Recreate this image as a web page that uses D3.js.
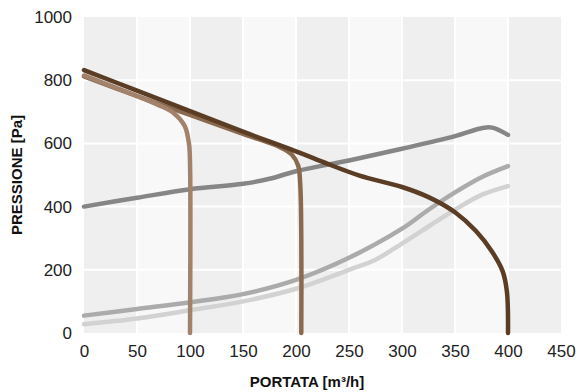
<!DOCTYPE html>
<html><head><meta charset="utf-8">
<script src="https://cdn.jsdelivr.net/npm/d3@7/dist/d3.min.js"></script>
<style>body{margin:0;background:#fff}svg{display:block}</style>
</head><body>
<svg id="c" width="579" height="392"></svg>
<script>
const xTicks = [0,50,100,150,200,250,300,350,400,450];
const yTicks = [0,200,400,600,800,1000];
const xTitle = "PORTATA [m³/h]";
const yTitle = "PRESSIONE [Pa]";

// system curves (grey)
const greyDarkX = [0,50,100,150,175,200,250,300,350,375,385,400];
const greyDarkY = [400,428,455,472,488,512,546,583,623,648,650,627];
const greyMidX = [0,50,100,150,200,250,300,325,350,375,400];
const greyMidY = [55,76,97,123,168,238,330,390,445,493,528];
const greyLightX = [0,50,100,150,200,250,275,300,325,350,375,400];
const greyLightY = [28,46,72,100,140,200,232,283,337,390,437,465];

// fan curves (brown)
const fan100X = [0,40,70,85,95,99,100,100];
const fan100Y = [815,763,722,695,655,600,540,0];
const fan200X = [0,50,100,150,185,196,202,204,205,205];
const fan200Y = [812,750,690,630,588,565,530,470,300,0];
const fan400X = [0,50,100,150,200,230,260,300,325,350,370,385,395,399,400];
const fan400Y = [832,767,702,637,575,535,498,462,430,382,322,257,195,130,0];

const series = [
  {x: greyLightX, y: greyLightY, color: "#d2d2d2"},
  {x: greyMidX, y: greyMidY, color: "#ababab"},
  {x: greyDarkX, y: greyDarkY, color: "#868686"},
  {x: fan200X, y: fan200Y, color: "#8a6a4f"},
  {x: fan100X, y: fan100Y, color: "#a2826b"},
  {x: fan400X, y: fan400Y, color: "#5a3d24"}
];

const m = {l:84, r:561, t:17, b:333};
const x = d3.scaleLinear().domain([0,450]).range([m.l, m.r]);
const y = d3.scaleLinear().domain([0,1000]).range([m.b, m.t]);
const svg = d3.select("#c");
const font = "'Liberation Sans', Arial, sans-serif";

// alternating column bands
for (let i = 0; i < xTicks.length - 1; i++) {
  svg.append("rect")
    .attr("x", x(xTicks[i])).attr("y", m.t)
    .attr("width", x(xTicks[i+1]) - x(xTicks[i])).attr("height", m.b - m.t)
    .attr("fill", i % 2 === 0 ? "#efefef" : "#f8f8f8");
}
// grid
svg.append("g").selectAll("line").data(xTicks.slice(1,-1)).join("line")
  .attr("x1", d=>x(d)).attr("x2", d=>x(d)).attr("y1", m.t).attr("y2", m.b)
  .attr("stroke", "#fff").attr("stroke-width", 2);
svg.append("g").selectAll("line").data(yTicks.slice(1,-1)).join("line")
  .attr("x1", m.l).attr("x2", m.r).attr("y1", d=>y(d)).attr("y2", d=>y(d))
  .attr("stroke", "#fff").attr("stroke-width", 2);

// axes
const xa = svg.append("g").attr("transform", `translate(0,${m.b})`)
  .call(d3.axisBottom(x).tickValues(xTicks).tickFormat(d3.format("d")).tickSize(0).tickPadding(12));
const ya = svg.append("g").attr("transform", `translate(${m.l},0)`)
  .call(d3.axisLeft(y).tickValues(yTicks).tickFormat(d3.format("d")).tickSize(0).tickPadding(12));
[xa, ya].forEach(g => {
  g.select(".domain").remove();
  g.selectAll("text").attr("font-family", font).attr("font-size", 17).attr("fill", "#222");
});

// lines
const line = d3.line().curve(d3.curveCatmullRom.alpha(0.5));
series.forEach(s => {
  const pts = s.x.map((v, i) => [x(v), y(s.y[i])]);
  svg.append("path").attr("d", line(pts)).attr("fill", "none")
    .attr("stroke", s.color).attr("stroke-width", 4.5)
    .attr("stroke-linecap", "round").attr("stroke-linejoin", "round");
});

// titles
svg.append("text").attr("x", 307).attr("y", 387)
  .attr("text-anchor", "middle").attr("font-family", font)
  .attr("font-weight", "bold").attr("font-size", 15).attr("fill", "#111").text(xTitle);
svg.append("text").attr("transform", `translate(22,${(m.t+m.b)/2}) rotate(-90)`)
  .attr("text-anchor", "middle").attr("font-family", font)
  .attr("font-weight", "bold").attr("font-size", 15).attr("fill", "#111").text(yTitle);
</script>
</body></html>
